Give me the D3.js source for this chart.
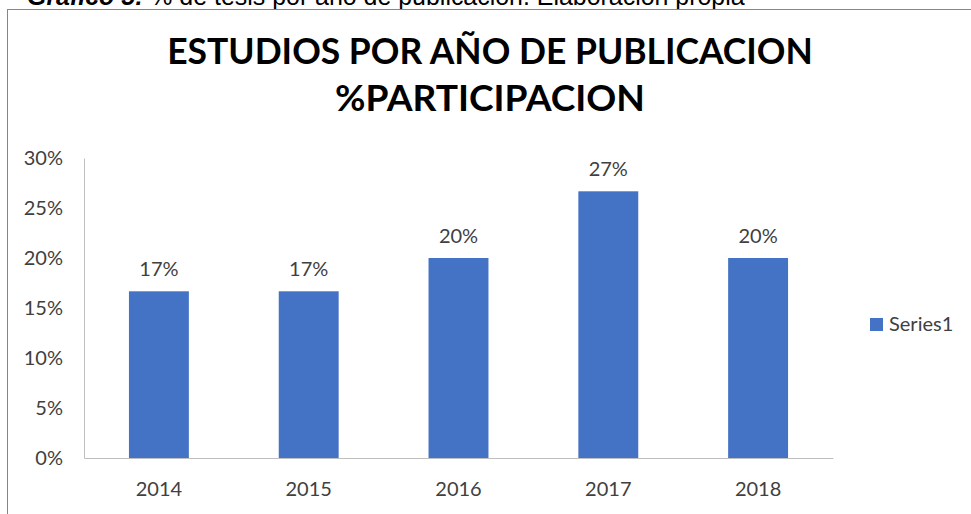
<!DOCTYPE html>
<html><head><meta charset="utf-8">
<script src="https://cdn.jsdelivr.net/npm/d3@7"></script>
<style>body{margin:0;background:#fff}</style>
</head><body>
<svg id="c" width="971" height="514"></svg>
<script>
const categories = ["2014","2015","2016","2017","2018"];
const values = [0.1667, 0.1667, 0.20, 0.2667, 0.20];
const valueLabels = ["17%","17%","20%","27%","20%"];
const yTicks = [0,0.05,0.10,0.15,0.20,0.25,0.30];
const seriesName = "Series1";
const titleLines = ["ESTUDIOS POR AÑO DE PUBLICACION","%PARTICIPACION"];

const svg = d3.select("#c");
const font = "Lato, 'Open Sans', sans-serif";

// caption (cut at top)
const cap = svg.append("text").attr("x",27).attr("y",5).attr("font-family","Arial, 'Liberation Sans', sans-serif")
  .attr("font-size",20).attr("fill","#000");
cap.append("tspan").attr("font-weight","bold").attr("font-style","italic").text("Gráfico 5:");
cap.append("tspan").text(" % de tesis por año de publicación. Elaboración propia");
{ const w = cap.node().getComputedTextLength(); cap.attr("font-size", 20*718/w); }

// chart border
svg.append("rect").attr("x",7.5).attr("y",9.5).attr("width",1000).attr("height",600)
  .attr("fill","none").attr("stroke","#868686").attr("stroke-width",1);

// title
const tY = [64,111], tW = [646,310];
titleLines.forEach((t,i)=>{
  const el = svg.append("text").attr("x",490).attr("y",tY[i]).attr("text-anchor","middle")
    .attr("font-family",font).attr("font-weight","bold").attr("font-size",36).attr("fill","#000").text(t);
  const w = el.node().getComputedTextLength(); el.attr("font-size",36*tW[i]/w);
});

const x = d3.scaleBand().domain(categories).range([84,833]).paddingInner(0.6).paddingOuter(0.3);
const y = d3.scaleLinear().domain([0,0.30]).range([458,158]);

// y axis
const ya = svg.append("g").attr("transform","translate(84,0)")
  .call(d3.axisLeft(y).tickValues(yTicks).tickFormat(d3.format(".0%")).tickSize(0).tickPadding(21));
ya.select(".domain").attr("stroke","#bfbfbf");
ya.selectAll("text").attr("font-family",font).attr("font-size",20).attr("fill","#404040");

// bars
svg.selectAll("rect.bar").data(values).join("rect").attr("class","bar")
  .attr("x",(d,i)=>x(categories[i])).attr("width",x.bandwidth())
  .attr("y",d=>y(d)).attr("height",d=>y(0)-y(d)).attr("fill","#4472C4");

// x axis
const xa = svg.append("g").attr("transform","translate(0,458)")
  .call(d3.axisBottom(x).tickSize(0).tickPadding(24));
xa.select(".domain").attr("stroke","#bfbfbf");
xa.selectAll("text").attr("font-family",font).attr("font-size",20).attr("fill","#404040");

// value labels
svg.selectAll("text.vl").data(values).join("text").attr("class","vl")
  .attr("x",(d,i)=>x(categories[i])+x.bandwidth()/2).attr("y",d=>y(d)-15)
  .attr("text-anchor","middle").attr("font-family",font).attr("font-size",20).attr("fill","#404040")
  .text((d,i)=>valueLabels[i]);

// legend
svg.append("rect").attr("x",870).attr("y",318).attr("width",13).attr("height",13).attr("fill","#4472C4");
svg.append("text").attr("x",889).attr("y",331).attr("font-family",font).attr("font-size",20).attr("fill","#404040").text(seriesName);
</script>
</body></html>
